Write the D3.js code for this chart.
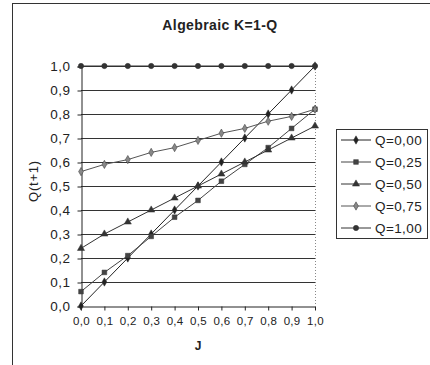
<!DOCTYPE html>
<html>
<head>
<meta charset="utf-8">
<script src="https://cdn.jsdelivr.net/npm/d3@7"></script>
<style>
body { margin: 0; background: #fff; }
svg text { font-family: "Liberation Sans", Arial, sans-serif; fill: #222; }
</style>
</head>
<body>
<div id="chart"></div>
<script>
// J values along the x axis
var jValues = [0.0, 0.1, 0.2, 0.3, 0.4, 0.5, 0.6, 0.7, 0.8, 0.9, 1.0];

// Q(t+1) for each Q
var q000 = [0.00, 0.10, 0.20, 0.30, 0.40, 0.50, 0.60, 0.70, 0.80, 0.90, 1.00];
var q025 = [0.06, 0.14, 0.21, 0.29, 0.37, 0.44, 0.52, 0.59, 0.66, 0.74, 0.82];
var q050 = [0.24, 0.30, 0.35, 0.40, 0.45, 0.50, 0.55, 0.60, 0.65, 0.70, 0.75];
var q075 = [0.56, 0.59, 0.61, 0.64, 0.66, 0.69, 0.72, 0.74, 0.77, 0.79, 0.82];
var q100 = [1.00, 1.00, 1.00, 1.00, 1.00, 1.00, 1.00, 1.00, 1.00, 1.00, 1.00];

var seriesNames = ["Q=0,00", "Q=0,25", "Q=0,50", "Q=0,75", "Q=1,00"];
var yTicks = [0.0, 0.1, 0.2, 0.3, 0.4, 0.5, 0.6, 0.7, 0.8, 0.9, 1.0];

var width = 430, height = 365;

var svg = d3.select("#chart")
    .append("svg")
    .attr("width", width)
    .attr("height", height);

// outer chart frame (only top and left show in the scan)
svg.append("rect")
    .attr("x", 12.5).attr("y", 3.5)
    .attr("width", 440).attr("height", 400)
    .attr("fill", "none")
    .attr("stroke", "#333")
    .attr("stroke-width", 1);

var x = d3.scaleLinear().domain([0, 1]).range([81, 315]);
var y = d3.scaleLinear().domain([0, 1]).range([306, 66]);

var fmt = function(d) { return d3.format(".1f")(d).replace(".", ","); };

// horizontal grid lines
svg.append("g")
    .selectAll("line")
    .data(yTicks.slice(1))
    .enter().append("line")
    .attr("x1", x(0)).attr("x2", x(1))
    .attr("y1", function(d) { return Math.round(y(d)) + 0.5; })
    .attr("y2", function(d) { return Math.round(y(d)) + 0.5; })
    .attr("stroke", "#333")
    .attr("stroke-width", 1);

// dotted right edge of plot area
svg.append("line")
    .attr("x1", x(1) + 0.5).attr("x2", x(1) + 0.5)
    .attr("y1", y(1)).attr("y2", y(0))
    .attr("stroke", "#888")
    .attr("stroke-dasharray", "1,2");

// y axis
var yAxis = d3.axisLeft(y)
    .tickValues(yTicks)
    .tickFormat(fmt)
    .tickSize(4)
    .tickPadding(7);

var gy = svg.append("g")
    .attr("transform", "translate(" + (x(0) + 0.5) + ",0.5)")
    .call(yAxis);
gy.selectAll("text").attr("font-size", 13.5).attr("letter-spacing", 0.5).style("fill", "#222");
gy.selectAll("line, path").attr("stroke", "#222");

// x axis
var xAxis = d3.axisBottom(x)
    .tickValues(jValues)
    .tickFormat(fmt)
    .tickSize(4)
    .tickSizeOuter(0)
    .tickPadding(6);

var gx = svg.append("g")
    .attr("transform", "translate(0," + (y(0) + 0.5) + ")")
    .call(xAxis);
gx.selectAll("text").attr("font-size", 11.5).attr("letter-spacing", 0.3).style("fill", "#222");
gx.selectAll("line, path").attr("stroke", "#222");

// titles
svg.append("text")
    .attr("x", 220).attr("y", 30)
    .attr("text-anchor", "middle")
    .attr("font-size", 14)
    .attr("font-weight", "bold")
    .attr("letter-spacing", 0.4)
    .text("Algebraic K=1-Q");

svg.append("text")
    .attr("x", 198).attr("y", 350)
    .attr("text-anchor", "middle")
    .attr("font-size", 12)
    .attr("font-weight", "bold")
    .text("J");

svg.append("text")
    .attr("transform", "translate(38,181) rotate(-90)")
    .attr("text-anchor", "middle")
    .attr("font-size", 13)
    .attr("letter-spacing", 0.8)
    .text("Q(t+1)");

// series
var allSeries = [q000, q025, q050, q075, q100];
var markerTypes = [d3.symbolDiamond, d3.symbolSquare, d3.symbolTriangle, d3.symbolDiamond, d3.symbolCircle];
var markerSizes = [20, 22, 22, 20, 22];
var markerFill = ["#222", "#444", "#333", "#888", "#333"];
var lineColor = ["#222", "#444", "#333", "#555", "#333"];

var line = d3.line()
    .x(function(d, i) { return x(jValues[i]); })
    .y(function(d) { return y(d); });

allSeries.forEach(function(vals, s) {
    svg.append("path")
        .datum(vals)
        .attr("d", line)
        .attr("fill", "none")
        .attr("stroke", lineColor[s])
        .attr("stroke-width", 1);

    svg.append("g")
        .selectAll("path")
        .data(vals)
        .enter().append("path")
        .attr("d", d3.symbol().type(markerTypes[s]).size(markerSizes[s]))
        .attr("transform", function(d, i) {
            return "translate(" + x(jValues[i]) + "," + y(d) + ")";
        })
        .attr("fill", markerFill[s])
        .attr("stroke", "#333")
        .attr("stroke-width", 0.5);
});

// legend
var legend = svg.append("g");
legend.append("rect")
    .attr("x", 336.5).attr("y", 129.5)
    .attr("width", 91).attr("height", 109)
    .attr("fill", "#fff")
    .attr("stroke", "#333");

seriesNames.forEach(function(name, s) {
    var ly = 140 + s * 22;
    legend.append("line")
        .attr("x1", 341).attr("x2", 371)
        .attr("y1", ly).attr("y2", ly)
        .attr("stroke", lineColor[s]);
    legend.append("path")
        .attr("d", d3.symbol().type(markerTypes[s]).size(markerSizes[s]))
        .attr("transform", "translate(356," + ly + ")")
        .attr("fill", markerFill[s])
        .attr("stroke", "#333")
        .attr("stroke-width", 0.5);
    legend.append("text")
        .attr("x", 375).attr("y", ly + 5)
        .attr("font-size", 13.5)
        .attr("letter-spacing", 0.4)
        .text(name);
});
</script>
</body>
</html>
